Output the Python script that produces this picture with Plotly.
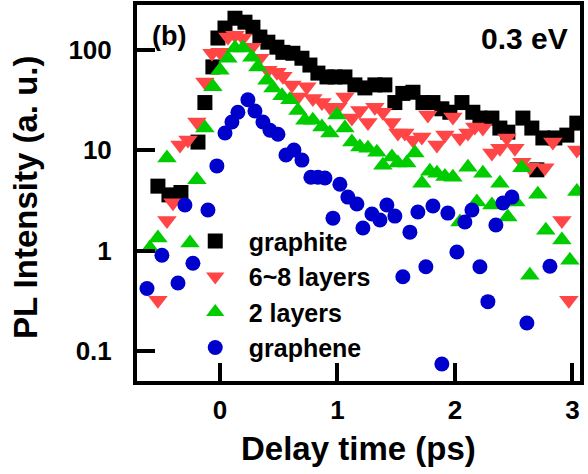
import plotly.graph_objects as go

# Delay time (ps) and PL intensity (a.u.) per sample
graphite_t = [-0.528, -0.434, -0.332, -0.187, -0.128, -0.060, -0.017, 0.043, 0.128, 0.213, 0.281, 0.340,
              0.408, 0.485, 0.536, 0.621, 0.698, 0.766, 0.834, 0.911, 0.979, 1.064, 1.149, 1.234, 1.319,
              1.404, 1.489, 1.557, 1.643, 1.728, 1.813, 1.889, 1.957, 2.060, 2.153, 2.213, 2.315, 2.383,
              2.451, 2.579, 2.655, 2.698, 2.749, 2.851, 2.953, 3.038]
graphite_i = [4.4, 3.6, 3.8, 12.1, 30, 68, 132, 166, 208, 190, 169, 135,
              120, 107, 95, 93, 83, 71, 59, 54, 54, 54, 45, 42, 45,
              45, 30, 37, 38, 30, 30, 26, 24, 30, 24, 21, 21, 16.7,
              15.2, 21, 16.7, 6.4, 13.3, 13.3, 14.2, 18.7]

layers68_t = [-0.528, -0.451, -0.400, -0.340, -0.272, -0.196, -0.128, -0.068, 0.0, 0.068, 0.128, 0.196,
              0.272, 0.340, 0.408, 0.485, 0.536, 0.613, 0.664, 0.740, 0.791, 0.868, 0.936, 1.004, 1.064,
              1.123, 1.191, 1.260, 1.319, 1.387, 1.464, 1.515, 1.574, 1.643, 1.719, 1.770, 1.847, 1.915,
              1.983, 2.043, 2.111, 2.170, 2.238, 2.315, 2.383, 2.443, 2.511, 2.570, 2.638, 2.766, 2.834,
              2.911, 2.970, 3.038]
layers68_i = [0.32, 2.0, 3.0, 11.3, 12.7, 19.2, 48, 93, 95, 135, 141, 132,
              107, 83, 63, 60, 55, 45, 34, 43, 33, 30, 27, 27, 34,
              21, 25, 19, 27, 24, 19, 14.9, 14.9, 12.7, 13.6, 22.5, 11.3, 14.2,
              21.5, 13.3, 14.9, 17.1, 16.7, 9.4, 10.5, 13.3, 10.5, 7.6, 6.8, 6.7, 12.1,
              2.0, 0.32, 10.1]

layers2_t = [-0.596, -0.528, -0.451, -0.255, -0.196, -0.128, -0.060, 0.0, 0.068, 0.128, 0.196, 0.272,
             0.323, 0.400, 0.451, 0.528, 0.596, 0.664, 0.723, 0.791, 0.868, 0.936, 0.996, 1.064, 1.123,
             1.191, 1.260, 1.336, 1.387, 1.464, 1.515, 1.591, 1.660, 1.719, 1.787, 1.847, 1.915, 1.983,
             2.043, 2.111, 2.187, 2.238, 2.315, 2.383, 2.451, 2.519, 2.570, 2.638, 2.706, 2.774, 2.911,
             2.979, 3.038]
layers2_i = [1.06, 1.34, 8.4, 1.19, 5.1, 16.7, 43, 63, 83, 105, 105, 85,
             68, 50, 42, 35, 32, 25, 20, 20, 17.1, 14.9, 22.5, 16.7, 12.1,
             10.8, 10.5, 9.6, 7.1, 8.6, 7.5, 7.5, 9.4, 4.7, 6.2, 5.9, 5.5, 5.4,
             1.93, 6.8, 3.05, 5.9, 2.85, 4.7, 2.16, 3.05, 6.7, 0.57, 3.66, 1.6, 1.28,
             0.80, 3.9]

graphene_t = [-0.621, -0.494, -0.357, -0.298, -0.230, -0.102, -0.026, 0.043, 0.102, 0.153, 0.238, 0.298,
              0.366, 0.426, 0.494, 0.562, 0.630, 0.698, 0.774, 0.834, 0.894, 0.962, 1.021, 1.089, 1.166,
              1.217, 1.294, 1.362, 1.421, 1.489, 1.557, 1.617, 1.685, 1.753, 1.813, 1.889, 1.940, 2.017,
              2.085, 2.145, 2.213, 2.281, 2.349, 2.409, 2.485, 2.613, 2.809]
graphene_i = [0.42, 0.90, 0.475, 2.85, 0.75, 2.54, 7.0, 14.9, 19.2, 24, 32, 24.7,
              19.2, 15.9, 14.5, 9.0, 10.1, 8.0, 5.4, 5.4, 5.3, 2.11, 4.6, 3.42, 2.92,
              1.68, 2.32, 2.02, 2.85, 2.21, 0.55, 1.53, 2.43, 0.69, 2.79, 0.074, 2.37, 0.97,
              1.93, 2.54, 0.69, 0.31, 1.80, 2.99, 3.42, 0.19, 0.70]

x_ticks = [0, 1, 2, 3]
y_ticks = [0.1, 1, 10, 100]
y_tick_text = ["0.1", "1", "10", "100"]

FONT = "Liberation Sans, Arial, sans-serif"

fig = go.Figure()
fig.add_trace(go.Scatter(x=graphite_t, y=graphite_i, mode="markers", name="graphite",
                         marker=dict(symbol="square", size=15, color="#000000", line=dict(width=0))))
fig.add_trace(go.Scatter(x=layers68_t, y=layers68_i, mode="markers", name="6~8 layers",
                         marker=dict(symbol="triangle-down", size=17, color="#ff4545", line=dict(width=0))))
fig.add_trace(go.Scatter(x=layers2_t, y=layers2_i, mode="markers", name="2 layers",
                         marker=dict(symbol="triangle-up", size=17, color="#00cc00", line=dict(width=0))))
fig.add_trace(go.Scatter(x=graphene_t, y=graphene_i, mode="markers", name="graphene",
                         marker=dict(symbol="circle", size=15, color="#0000cc", line=dict(width=0))))

fig.update_layout(
    width=588, height=474,
    margin=dict(l=137, r=8, t=5, b=93, autoexpand=False),
    paper_bgcolor="white", plot_bgcolor="white",
    font=dict(family=FONT, color="black", weight="bold"),
    showlegend=True,
    legend=dict(x=0.101, y=0.433, xanchor="left", yanchor="top",
                bgcolor="rgba(0,0,0,0)", font=dict(size=25, family=FONT, weight="bold"),
                itemwidth=57, tracegroupgap=0),
    annotations=[
        dict(text="(b)", x=0.03, y=0.918, xref="paper", yref="paper", xanchor="left", yanchor="middle",
             showarrow=False, font=dict(size=27, family=FONT, weight="bold")),
        dict(text="0.3 eV", x=0.978, y=0.912, xref="paper", yref="paper", xanchor="right", yanchor="middle",
             showarrow=False, font=dict(size=30, family=FONT, weight="bold")),
        dict(text="Delay time (ps)", x=0.501, y=-0.18, xref="paper", yref="paper",
             xanchor="center", yanchor="middle", showarrow=False,
             font=dict(size=33, family=FONT, weight="bold")),
        dict(text="PL Intensity (a. u.)", x=-0.252, y=0.49, xref="paper", yref="paper",
             xanchor="center", yanchor="middle", textangle=-90, showarrow=False,
             font=dict(size=33, family=FONT, weight="bold")),
    ],
)
fig.update_xaxes(range=[-0.706, 3.065], tickvals=x_ticks, ticks="inside", ticklen=18, tickwidth=4,
                 tickcolor="black", showline=True, linewidth=4, linecolor="black", mirror=True,
                 showgrid=False, zeroline=False, ticklabelstandoff=3, automargin=False,
                 tickfont=dict(size=26, family=FONT, weight="bold"))
fig.update_yaxes(type="log", range=[-1.3, 2.45], tickvals=y_ticks, ticktext=y_tick_text,
                 ticks="inside", ticklen=18, tickwidth=4, tickcolor="black",
                 showline=True, linewidth=4, linecolor="black", mirror=True,
                 showgrid=False, zeroline=False, ticklabelstandoff=16, automargin=False,
                 tickfont=dict(size=26, family=FONT, weight="bold"))

fig.write_html("out.html", config={"displayModeBar": False},
               post_script="document.body.style.margin='0px';")
